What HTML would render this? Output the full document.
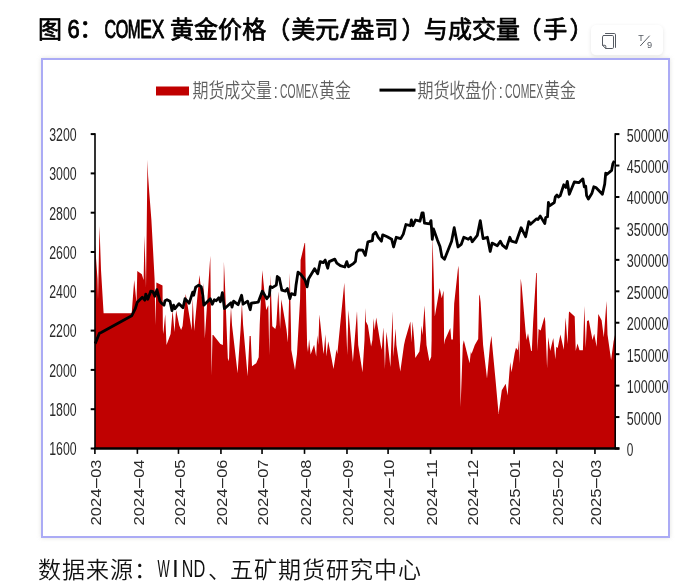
<!DOCTYPE html>
<html lang="zh-CN"><head><meta charset="utf-8"><title>图 6：COMEX 黄金价格（美元/盎司）与成交量（手）</title>
<style>
html,body{margin:0;padding:0;background:#fff;}
body{width:699px;height:587px;overflow:hidden;position:relative;}
svg{display:block;position:absolute;left:0;top:0;will-change:transform;opacity:0.999;}
.cjk{font-family:"Noto Sans CJK SC","WenQuanYi Zen Hei",sans-serif;}
.lat{font-family:"Liberation Sans",sans-serif;}
</style></head><body>
<svg width="699" height="587" viewBox="0 0 699 587">
<defs>
<filter id="sh" x="-20%" y="-40%" width="140%" height="180%"><feGaussianBlur stdDeviation="2.2"/></filter>
<filter id="gl" x="-5%" y="-5%" width="110%" height="110%"><feGaussianBlur stdDeviation="2"/></filter>
</defs>
<rect width="699" height="587" fill="#fff"/>

<g id="title" stroke="#000" stroke-width="0.75" stroke-linejoin="round">
<text fill="#000" font-size="24" font-weight="400" y="38.0"><tspan class="cjk" x="38.00">图</tspan><tspan class="lat" x="62.00" y="37.7" font-size="26.4"> </tspan><tspan class="lat" x="67.40" y="37.7" font-size="26.4" textLength="12.2" lengthAdjust="spacingAndGlyphs" stroke-width="0.9">6</tspan><tspan class="cjk" x="79.20" y="37.0">：</tspan><tspan class="lat" x="104.38" y="37.7" font-size="26.4" textLength="11.6" lengthAdjust="spacingAndGlyphs" stroke-width="1.0">C</tspan><tspan class="lat" x="115.83" y="37.7" font-size="26.4" textLength="12.6" lengthAdjust="spacingAndGlyphs" stroke-width="1.0">O</tspan><tspan class="lat" x="127.67" y="37.7" font-size="26.4" textLength="12.8" lengthAdjust="spacingAndGlyphs" stroke-width="1.0">M</tspan><tspan class="lat" x="140.22" y="37.7" font-size="26.4" textLength="11.6" lengthAdjust="spacingAndGlyphs" stroke-width="1.0">E</tspan><tspan class="lat" x="151.67" y="37.7" font-size="26.4" textLength="12.6" lengthAdjust="spacingAndGlyphs" stroke-width="1.0">X</tspan><tspan class="lat" x="164.00" y="37.7" font-size="26.4"> </tspan><tspan class="cjk" x="170.00 194.05 218.10 242.15 266.20" y="38.0">黄金价格（</tspan><tspan class="cjk" x="291.30 315.35" y="38.0">美元</tspan><tspan class="lat" x="340.20" y="37.7" font-size="26.4" textLength="9.6" lengthAdjust="spacingAndGlyphs" stroke-width="0.5">/</tspan><tspan class="cjk" x="350.50 374.60" y="38.0">盎司</tspan><tspan class="cjk" x="401.50" y="38.0">）</tspan><tspan class="cjk" x="423.80 447.90 472.00 496.10" y="38.0">与成交量</tspan><tspan class="cjk" x="517.40" y="38.0">（</tspan><tspan class="cjk" x="543.30" y="38.0">手</tspan><tspan class="cjk" x="569.50" y="38.0">）</tspan></text>
</g>
<g id="toolbar">
<rect x="591" y="26.5" width="72" height="30" rx="5" fill="#000" opacity="0.10" filter="url(#sh)"/>
<rect x="591" y="25" width="72" height="30.3" rx="5" fill="#fff"/>
<g fill="none" stroke="#555a62" stroke-width="1" stroke-linecap="round" stroke-linejoin="round">
<path d="M605.5 33.5 H614.3 Q615.5 33.5 615.5 34.7 V47.4"/>
<path d="M603.7 35.5 H612.3 Q613.5 35.5 613.5 36.7 V47.3 Q613.5 48.5 612.3 48.5 H605.8 L602.5 45.4 V36.7 Q602.5 35.5 603.7 35.5 Z"/>
<path d="M602.6 45.3 H604.9 Q605.8 45.3 605.8 46.2 V48.4"/>
<path d="M640.5 45.7 L649.4 36.0"/>
</g>
<text class="lat" x="638.3" y="40.6" font-size="9" fill="#555a62" textLength="5.5" lengthAdjust="spacingAndGlyphs">T</text>
<text class="lat" x="647.1" y="48.4" font-size="9.2" fill="#555a62">9</text>
</g>
<g id="frame">
<rect x="41" y="58" width="629" height="480" fill="#d8d8d4" opacity="0.75" filter="url(#gl)"/>
<rect x="42" y="59" width="627" height="478" fill="#fff" stroke="#ababf5" stroke-width="2"/>
</g>
<g id="legend">
<rect x="156" y="86.5" width="33" height="9" fill="#c00000"/>
<rect x="379.5" y="88.6" width="36" height="3" fill="#000"/>
<text transform="translate(192.5,98.2) scale(1,1.28)" fill="#5f5f5f" font-size="16" y="0"><tspan class="cjk" x="0.00 15.90 31.80 47.70 63.60" y="0" font-size="16" font-weight="350">期货成交量</tspan><tspan class="lat" x="81.30" y="0" font-size="15.5" textLength="4" lengthAdjust="spacingAndGlyphs">:</tspan><tspan class="lat" x="87.60" y="0" font-size="15.5" textLength="38" lengthAdjust="spacingAndGlyphs">COMEX</tspan><tspan class="cjk" x="126.50 142.40" y="0" font-size="16" font-weight="350">黄金</tspan></text>
<text transform="translate(417.5,98.2) scale(1,1.28)" fill="#5f5f5f" font-size="16" y="0"><tspan class="cjk" x="0.00 15.90 31.80 47.70 63.60" y="0" font-size="16" font-weight="350">期货收盘价</tspan><tspan class="lat" x="81.30" y="0" font-size="15.5" textLength="4" lengthAdjust="spacingAndGlyphs">:</tspan><tspan class="lat" x="87.60" y="0" font-size="15.5" textLength="38" lengthAdjust="spacingAndGlyphs">COMEX</tspan><tspan class="cjk" x="126.50 142.40" y="0" font-size="16" font-weight="350">黄金</tspan></text>
</g>
<g id="plot">
<polygon points="95.0,244.0 95.8,255.2 97.5,279.0 98.0,300.0 99.5,226.0 101.0,270.0 103.6,313.3 131.7,313.3 134.2,280.0 136.5,303.0 137.3,271.0 141.8,274.3 143.6,280.0 144.5,235.6 146.0,288.0 147.5,159.7 148.1,176.0 149.3,193.0 151.4,220.0 154.6,279.0 155.4,325.0 156.4,282.6 162.5,285.5 162.9,330.0 163.3,334.0 165.2,314.3 166.5,345.1 170.6,334.0 172.6,310.2 174.5,332.0 176.1,310.2 179.3,325.5 181.1,330.0 182.6,326.0 185.7,294.1 191.7,330.0 192.7,298.2 194.2,331.0 199.4,275.0 202.3,300.0 203.5,283.1 204.8,338.6 210.3,255.8 211.6,375.3 212.5,335.0 213.3,335.0 220.4,344.1 222.9,345.1 223.2,325.0 223.9,261.8 225.0,285.0 226.5,325.0 227.8,358.0 228.4,361.2 229.1,358.0 230.0,325.0 231.0,307.2 232.0,325.0 237.6,373.3 240.6,329.0 241.9,303.2 243.1,325.0 247.6,376.3 249.6,336.0 250.7,336.0 252.0,366.2 256.2,363.2 258.7,357.2 259.7,325.0 262.3,270.2 266.2,310.0 268.3,305.2 269.3,355.2 270.4,275.0 272.3,326.3 275.3,329.0 276.3,325.0 278.3,291.6 280.1,329.0 281.3,299.2 286.4,329.0 287.9,342.6 289.8,273.0 291.1,335.0 291.3,350.0 295.0,370.1 297.0,354.0 300.1,299.0 300.6,260.1 304.6,243.0 305.1,243.0 306.1,299.0 307.1,345.3 308.0,352.0 309.1,339.3 310.6,354.5 314.1,344.8 316.2,356.5 317.2,335.2 318.3,345.0 319.4,314.6 323.2,351.0 323.7,354.0 325.4,334.2 326.4,356.5 328.2,341.3 330.7,354.0 333.5,369.1 335.8,354.0 336.3,349.3 337.3,354.0 344.3,282.8 347.3,355.0 348.4,310.1 352.9,362.1 357.0,311.1 358.2,345.0 362.5,372.2 364.5,340.0 365.3,308.0 365.9,321.5 367.9,325.4 371.1,346.4 372.4,340.0 373.7,318.3 374.6,330.5 376.2,317.6 380.7,345.0 381.8,349.7 383.3,327.3 384.0,340.0 384.9,369.0 386.0,340.0 386.5,331.8 390.4,367.0 392.6,311.2 393.4,356.7 395.6,328.6 396.4,345.0 400.3,371.5 404.0,345.0 405.2,339.5 410.4,321.5 411.4,342.6 412.6,321.5 414.2,340.0 415.3,358.0 419.4,351.6 420.7,340.0 421.3,325.4 422.5,335.0 424.5,305.4 426.5,345.0 429.4,361.2 431.2,356.7 431.6,340.0 431.9,283.0 432.5,237.0 433.5,270.0 434.8,316.4 439.7,288.0 441.7,298.3 443.6,290.6 444.1,340.0 444.5,344.5 445.0,340.0 450.3,327.9 451.3,339.5 452.9,339.5 454.2,303.5 457.8,270.0 458.3,265.7 458.7,270.0 460.0,345.0 460.6,407.0 462.8,345.0 463.8,340.2 469.6,363.2 470.9,351.6 471.5,354.0 474.8,345.0 478.2,339.0 479.2,296.0 479.7,294.5 480.6,302.0 483.1,345.0 487.0,378.6 490.0,345.0 491.5,335.7 492.2,345.0 495.4,378.6 498.6,414.0 501.8,390.2 505.7,383.8 507.6,395.4 510.2,361.9 511.5,372.2 514.7,352.9 516.0,347.7 517.9,350.3 518.5,340.0 519.4,363.2 520.0,330.0 520.7,278.4 521.8,286.7 525.6,331.8 526.6,340.0 528.0,333.2 531.1,351.0 531.8,350.9 533.2,320.9 536.2,273.0 536.8,273.0 537.5,351.0 538.6,329.1 540.7,330.4 544.5,316.8 545.2,320.9 547.1,368.2 548.2,337.2 550.2,350.9 553.3,337.9 555.3,359.3 556.3,346.8 557.7,348.1 560.4,334.5 563.8,349.8 565.6,317.5 567.5,344.0 568.9,312.7 569.3,311.6 574.7,316.5 575.7,351.0 577.5,343.4 579.5,350.2 582.9,350.2 584.4,305.9 585.7,348.1 587.0,320.9 588.8,320.2 592.5,340.0 594.2,333.8 596.6,346.8 598.3,314.1 601.6,320.2 603.8,337.2 606.5,301.1 607.5,334.5 610.2,353.6 611.1,360.0 613.6,341.3 615.0,335.0 615.2,448.5 95.0,448.5" fill="#c00000"/>
<polyline points="95.2,343.6 99.4,333.3 101.2,332.4 131.7,315.8 135.3,308.7 137.3,302.2 142.3,297.2 144.8,300.2 145.8,294.1 147.8,299.2 150.8,291.1 152.9,291.6 154.9,296.2 156.9,289.6 159.9,301.2 161.5,303.2 164.0,305.2 165.0,300.7 167.0,299.7 170.0,301.2 172.0,310.7 173.6,305.2 175.0,308.7 179.0,303.7 183.0,307.7 185.0,298.7 189.2,303.2 192.7,292.1 193.7,295.2 195.7,287.1 198.7,285.1 201.2,286.6 202.8,295.2 203.8,305.2 210.3,298.7 212.3,304.2 214.3,299.7 216.3,300.7 218.9,297.7 220.4,301.7 222.4,292.6 224.4,308.7 231.0,302.7 232.0,307.2 233.6,301.2 238.1,304.7 241.6,295.2 243.1,304.2 247.6,301.2 250.2,309.7 251.4,303.2 258.2,302.2 262.4,291.1 266.8,298.7 269.3,295.7 270.3,286.6 272.3,287.6 276.3,285.1 277.3,276.5 279.3,278.0 281.8,290.1 285.4,291.1 287.4,288.6 289.9,298.7 291.4,293.6 295.0,294.8 296.0,285.3 298.0,272.2 301.0,274.7 305.1,280.2 307.1,286.8 308.6,278.7 314.6,268.7 317.7,273.7 320.2,261.6 323.2,262.6 325.2,260.1 327.7,268.2 329.2,261.6 334.8,259.1 336.8,263.1 340.3,265.7 344.8,267.0 346.8,261.6 348.4,266.7 353.4,263.6 355.4,261.6 356.6,252.5 358.7,249.8 362.7,250.2 365.3,255.4 367.9,241.8 372.4,240.6 373.0,234.8 375.6,232.2 378.2,237.3 381.4,241.2 382.7,234.8 387.2,236.7 391.7,239.3 393.6,247.0 396.2,237.3 400.7,238.6 403.3,234.1 405.9,224.5 410.4,225.7 411.4,220.0 412.9,225.7 415.5,220.0 420.0,221.2 422.0,212.9 423.2,212.9 424.5,223.2 429.7,223.8 431.0,220.6 432.3,239.3 433.5,229.0 437.4,239.9 440.0,246.4 441.9,256.7 444.5,259.2 451.6,241.2 454.2,227.7 458.0,247.0 461.2,244.4 463.8,237.3 468.3,239.3 470.6,237.3 472.2,241.8 477.3,235.4 480.3,220.6 483.1,238.6 487.4,237.3 490.2,251.5 492.1,243.1 497.3,245.7 500.3,241.2 502.4,245.1 506.3,248.3 509.8,237.3 511.5,241.2 516.0,242.5 521.1,227.7 525.6,236.7 528.8,221.6 530.5,224.3 536.6,218.8 538.0,219.5 540.3,216.1 544.8,223.6 545.7,217.5 547.5,216.8 548.4,202.5 549.5,205.9 554.3,202.5 555.3,197.0 557.0,195.0 558.4,197.0 560.2,195.7 563.8,184.8 565.9,187.5 567.3,181.3 569.3,194.3 574.3,182.0 578.8,182.7 582.9,178.9 584.3,186.8 585.7,186.1 586.6,195.7 588.4,199.1 591.8,193.6 593.8,186.8 595.9,187.5 602.4,194.3 604.7,184.1 605.7,173.2 606.8,174.5 611.6,170.4 612.9,163.6 614.3,160.9" fill="none" stroke="#000" stroke-width="2.8" stroke-linejoin="round" stroke-linecap="butt"/>
<g stroke="#000" stroke-width="1.6" fill="none">
<path d="M95.0 133.29999999999998 V449.3"/>
<path d="M615.2 133.29999999999998 V449.3"/>
<path d="M94.2 448.5 H619.4000000000001" stroke-width="2.4"/>
<path d="M90.7 134.10 H95.0" stroke-width="2"/>
<path d="M90.7 173.40 H95.0" stroke-width="2"/>
<path d="M90.7 212.70 H95.0" stroke-width="2"/>
<path d="M90.7 252.00 H95.0" stroke-width="2"/>
<path d="M90.7 291.30 H95.0" stroke-width="2"/>
<path d="M90.7 330.60 H95.0" stroke-width="2"/>
<path d="M90.7 369.90 H95.0" stroke-width="2"/>
<path d="M90.7 409.20 H95.0" stroke-width="2"/>
<path d="M90.7 448.50 H95.0" stroke-width="2"/>
<path d="M615.2 134.10 H619.4000000000001" stroke-width="2"/>
<path d="M615.2 165.54 H619.4000000000001" stroke-width="2"/>
<path d="M615.2 196.98 H619.4000000000001" stroke-width="2"/>
<path d="M615.2 228.42 H619.4000000000001" stroke-width="2"/>
<path d="M615.2 259.86 H619.4000000000001" stroke-width="2"/>
<path d="M615.2 291.30 H619.4000000000001" stroke-width="2"/>
<path d="M615.2 322.74 H619.4000000000001" stroke-width="2"/>
<path d="M615.2 354.18 H619.4000000000001" stroke-width="2"/>
<path d="M615.2 385.62 H619.4000000000001" stroke-width="2"/>
<path d="M615.2 417.06 H619.4000000000001" stroke-width="2"/>
<path d="M615.2 448.50 H619.4000000000001" stroke-width="2"/>
<path d="M94.90 448.5 V453.9"/>
<path d="M137.37 448.5 V453.9"/>
<path d="M178.47 448.5 V453.9"/>
<path d="M220.94 448.5 V453.9"/>
<path d="M262.04 448.5 V453.9"/>
<path d="M304.51 448.5 V453.9"/>
<path d="M346.98 448.5 V453.9"/>
<path d="M388.08 448.5 V453.9"/>
<path d="M430.55 448.5 V453.9"/>
<path d="M471.65 448.5 V453.9"/>
<path d="M514.12 448.5 V453.9"/>
<path d="M556.59 448.5 V453.9"/>
<path d="M594.95 448.5 V453.9"/>
</g>
<text class="lat" x="49.2" y="140.9" font-size="17.5" fill="#2a2a2a" textLength="27.4" lengthAdjust="spacingAndGlyphs">3200</text>
<text class="lat" x="49.2" y="180.2" font-size="17.5" fill="#2a2a2a" textLength="27.4" lengthAdjust="spacingAndGlyphs">3000</text>
<text class="lat" x="49.2" y="219.5" font-size="17.5" fill="#2a2a2a" textLength="27.4" lengthAdjust="spacingAndGlyphs">2800</text>
<text class="lat" x="49.2" y="258.8" font-size="17.5" fill="#2a2a2a" textLength="27.4" lengthAdjust="spacingAndGlyphs">2600</text>
<text class="lat" x="49.2" y="298.1" font-size="17.5" fill="#2a2a2a" textLength="27.4" lengthAdjust="spacingAndGlyphs">2400</text>
<text class="lat" x="49.2" y="337.4" font-size="17.5" fill="#2a2a2a" textLength="27.4" lengthAdjust="spacingAndGlyphs">2200</text>
<text class="lat" x="49.2" y="376.7" font-size="17.5" fill="#2a2a2a" textLength="27.4" lengthAdjust="spacingAndGlyphs">2000</text>
<text class="lat" x="49.2" y="416.0" font-size="17.5" fill="#2a2a2a" textLength="27.4" lengthAdjust="spacingAndGlyphs">1800</text>
<text class="lat" x="49.2" y="455.3" font-size="17.5" fill="#2a2a2a" textLength="27.4" lengthAdjust="spacingAndGlyphs">1600</text>
<text class="lat" x="626.7" y="141.5" font-size="17.5" fill="#2a2a2a" textLength="41.9" lengthAdjust="spacingAndGlyphs">500000</text>
<text class="lat" x="626.7" y="172.9" font-size="17.5" fill="#2a2a2a" textLength="41.9" lengthAdjust="spacingAndGlyphs">450000</text>
<text class="lat" x="626.7" y="204.4" font-size="17.5" fill="#2a2a2a" textLength="41.9" lengthAdjust="spacingAndGlyphs">400000</text>
<text class="lat" x="626.7" y="235.8" font-size="17.5" fill="#2a2a2a" textLength="41.9" lengthAdjust="spacingAndGlyphs">350000</text>
<text class="lat" x="626.7" y="267.3" font-size="17.5" fill="#2a2a2a" textLength="41.9" lengthAdjust="spacingAndGlyphs">300000</text>
<text class="lat" x="626.7" y="298.7" font-size="17.5" fill="#2a2a2a" textLength="41.9" lengthAdjust="spacingAndGlyphs">250000</text>
<text class="lat" x="626.7" y="330.1" font-size="17.5" fill="#2a2a2a" textLength="41.9" lengthAdjust="spacingAndGlyphs">200000</text>
<text class="lat" x="626.7" y="361.6" font-size="17.5" fill="#2a2a2a" textLength="41.9" lengthAdjust="spacingAndGlyphs">150000</text>
<text class="lat" x="626.7" y="393.0" font-size="17.5" fill="#2a2a2a" textLength="41.9" lengthAdjust="spacingAndGlyphs">100000</text>
<text class="lat" x="626.7" y="424.5" font-size="17.5" fill="#2a2a2a" textLength="34.9" lengthAdjust="spacingAndGlyphs">50000</text>
<text class="lat" x="626.7" y="455.9" font-size="17.5" fill="#2a2a2a" textLength="6.6" lengthAdjust="spacingAndGlyphs">0</text>
<text transform="translate(101.1,525.6) rotate(-90)" font-size="14.7" fill="#2a2a2a" y="0"><tspan class="lat" x="0.00" y="0" textLength="37.0" lengthAdjust="spacingAndGlyphs">2024</tspan><tspan class="lat" x="35.90" y="0" textLength="13.4" lengthAdjust="spacingAndGlyphs">-</tspan><tspan class="lat" x="47.80" y="0" textLength="18.2" lengthAdjust="spacingAndGlyphs">03</tspan></text>
<text transform="translate(143.6,525.6) rotate(-90)" font-size="14.7" fill="#2a2a2a" y="0"><tspan class="lat" x="0.00" y="0" textLength="37.0" lengthAdjust="spacingAndGlyphs">2024</tspan><tspan class="lat" x="35.90" y="0" textLength="13.4" lengthAdjust="spacingAndGlyphs">-</tspan><tspan class="lat" x="47.80" y="0" textLength="18.2" lengthAdjust="spacingAndGlyphs">04</tspan></text>
<text transform="translate(184.7,525.6) rotate(-90)" font-size="14.7" fill="#2a2a2a" y="0"><tspan class="lat" x="0.00" y="0" textLength="37.0" lengthAdjust="spacingAndGlyphs">2024</tspan><tspan class="lat" x="35.90" y="0" textLength="13.4" lengthAdjust="spacingAndGlyphs">-</tspan><tspan class="lat" x="47.80" y="0" textLength="18.2" lengthAdjust="spacingAndGlyphs">05</tspan></text>
<text transform="translate(227.1,525.6) rotate(-90)" font-size="14.7" fill="#2a2a2a" y="0"><tspan class="lat" x="0.00" y="0" textLength="37.0" lengthAdjust="spacingAndGlyphs">2024</tspan><tspan class="lat" x="35.90" y="0" textLength="13.4" lengthAdjust="spacingAndGlyphs">-</tspan><tspan class="lat" x="47.80" y="0" textLength="18.2" lengthAdjust="spacingAndGlyphs">06</tspan></text>
<text transform="translate(268.2,525.6) rotate(-90)" font-size="14.7" fill="#2a2a2a" y="0"><tspan class="lat" x="0.00" y="0" textLength="37.0" lengthAdjust="spacingAndGlyphs">2024</tspan><tspan class="lat" x="35.90" y="0" textLength="13.4" lengthAdjust="spacingAndGlyphs">-</tspan><tspan class="lat" x="47.80" y="0" textLength="18.2" lengthAdjust="spacingAndGlyphs">07</tspan></text>
<text transform="translate(310.7,525.6) rotate(-90)" font-size="14.7" fill="#2a2a2a" y="0"><tspan class="lat" x="0.00" y="0" textLength="37.0" lengthAdjust="spacingAndGlyphs">2024</tspan><tspan class="lat" x="35.90" y="0" textLength="13.4" lengthAdjust="spacingAndGlyphs">-</tspan><tspan class="lat" x="47.80" y="0" textLength="18.2" lengthAdjust="spacingAndGlyphs">08</tspan></text>
<text transform="translate(353.2,525.6) rotate(-90)" font-size="14.7" fill="#2a2a2a" y="0"><tspan class="lat" x="0.00" y="0" textLength="37.0" lengthAdjust="spacingAndGlyphs">2024</tspan><tspan class="lat" x="35.90" y="0" textLength="13.4" lengthAdjust="spacingAndGlyphs">-</tspan><tspan class="lat" x="47.80" y="0" textLength="18.2" lengthAdjust="spacingAndGlyphs">09</tspan></text>
<text transform="translate(394.3,525.6) rotate(-90)" font-size="14.7" fill="#2a2a2a" y="0"><tspan class="lat" x="0.00" y="0" textLength="37.0" lengthAdjust="spacingAndGlyphs">2024</tspan><tspan class="lat" x="35.90" y="0" textLength="13.4" lengthAdjust="spacingAndGlyphs">-</tspan><tspan class="lat" x="47.80" y="0" textLength="18.2" lengthAdjust="spacingAndGlyphs">10</tspan></text>
<text transform="translate(436.8,525.6) rotate(-90)" font-size="14.7" fill="#2a2a2a" y="0"><tspan class="lat" x="0.00" y="0" textLength="37.0" lengthAdjust="spacingAndGlyphs">2024</tspan><tspan class="lat" x="35.90" y="0" textLength="13.4" lengthAdjust="spacingAndGlyphs">-</tspan><tspan class="lat" x="47.80" y="0" textLength="18.2" lengthAdjust="spacingAndGlyphs">11</tspan></text>
<text transform="translate(477.9,525.6) rotate(-90)" font-size="14.7" fill="#2a2a2a" y="0"><tspan class="lat" x="0.00" y="0" textLength="37.0" lengthAdjust="spacingAndGlyphs">2024</tspan><tspan class="lat" x="35.90" y="0" textLength="13.4" lengthAdjust="spacingAndGlyphs">-</tspan><tspan class="lat" x="47.80" y="0" textLength="18.2" lengthAdjust="spacingAndGlyphs">12</tspan></text>
<text transform="translate(520.3,525.6) rotate(-90)" font-size="14.7" fill="#2a2a2a" y="0"><tspan class="lat" x="0.00" y="0" textLength="37.0" lengthAdjust="spacingAndGlyphs">2025</tspan><tspan class="lat" x="35.90" y="0" textLength="13.4" lengthAdjust="spacingAndGlyphs">-</tspan><tspan class="lat" x="47.80" y="0" textLength="18.2" lengthAdjust="spacingAndGlyphs">01</tspan></text>
<text transform="translate(562.8,525.6) rotate(-90)" font-size="14.7" fill="#2a2a2a" y="0"><tspan class="lat" x="0.00" y="0" textLength="37.0" lengthAdjust="spacingAndGlyphs">2025</tspan><tspan class="lat" x="35.90" y="0" textLength="13.4" lengthAdjust="spacingAndGlyphs">-</tspan><tspan class="lat" x="47.80" y="0" textLength="18.2" lengthAdjust="spacingAndGlyphs">02</tspan></text>
<text transform="translate(601.2,525.6) rotate(-90)" font-size="14.7" fill="#2a2a2a" y="0"><tspan class="lat" x="0.00" y="0" textLength="37.0" lengthAdjust="spacingAndGlyphs">2025</tspan><tspan class="lat" x="35.90" y="0" textLength="13.4" lengthAdjust="spacingAndGlyphs">-</tspan><tspan class="lat" x="47.80" y="0" textLength="18.2" lengthAdjust="spacingAndGlyphs">03</tspan></text>
</g>
<g id="footer">
<text fill="#111" font-size="23" font-weight="350" y="577.7"><tspan class="cjk" x="38.00 62.00 86.00 110.00 134.00" y="577.7">数据来源：</tspan><tspan class="lat" x="157.40" y="577.4" font-size="24.6" font-weight="400" textLength="12.2" lengthAdjust="spacingAndGlyphs">W</tspan><tspan class="lat" x="175.50" y="577.4" font-size="24.6" font-weight="400" text-anchor="middle" >I</tspan><tspan class="lat" x="181.70" y="577.4" font-size="24.6" font-weight="400" textLength="11.6" lengthAdjust="spacingAndGlyphs">N</tspan><tspan class="lat" x="193.60" y="577.4" font-size="24.6" font-weight="400" textLength="11.8" lengthAdjust="spacingAndGlyphs">D</tspan><tspan class="cjk" x="208.00" y="577.7">、</tspan><tspan class="cjk" x="230.00 254.00 278.00 302.00 326.00 350.00 374.00 398.00" y="577.7">五矿期货研究中心</tspan></text>
</g>
</svg></body></html>
